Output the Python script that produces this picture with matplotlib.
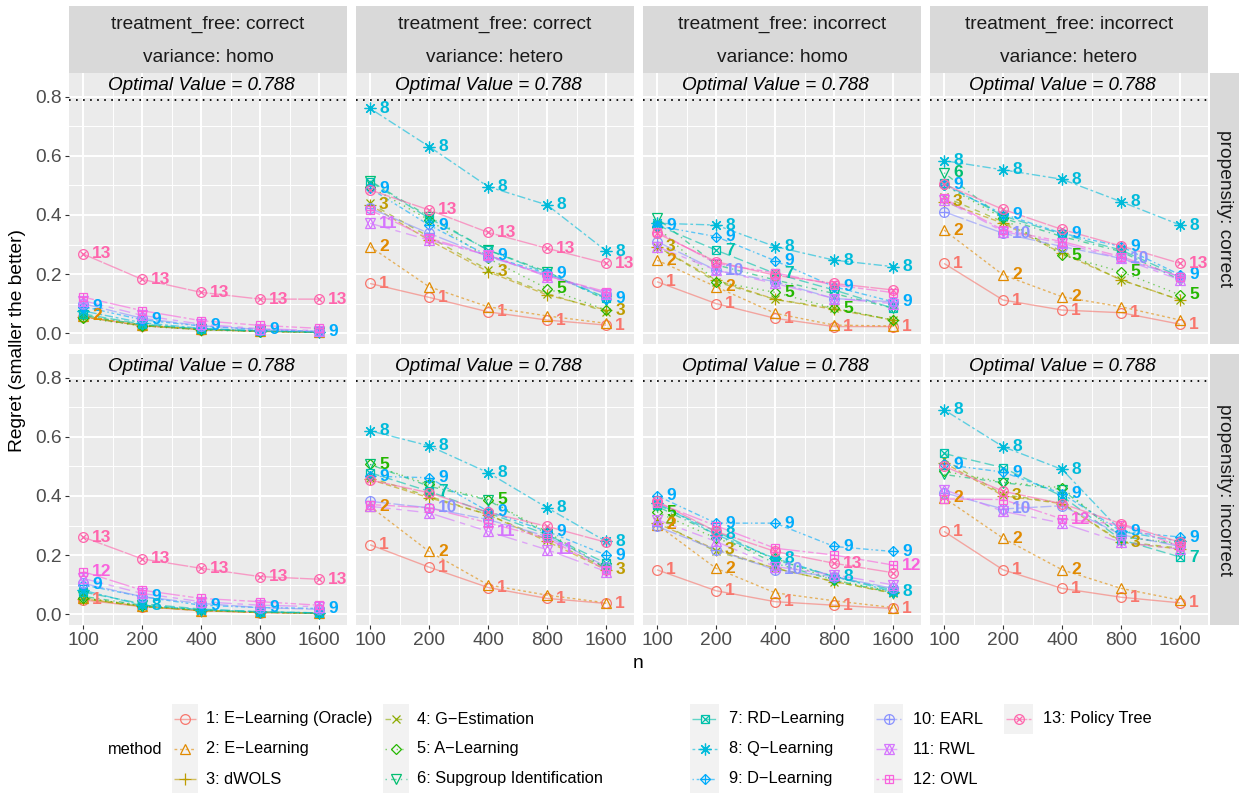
import numpy as np
import matplotlib.pyplot as plt
from matplotlib.patches import Rectangle

plt.rcParams['font.family'] = ['Liberation Sans', 'DejaVu Sans']

# ---------------- data ----------------
n_ticks = ["100", "200", "400", "800", "1600"]
methods = ["1: E\u2212Learning (Oracle)", "2: E\u2212Learning", "3: dWOLS",
           "4: G\u2212Estimation", "5: A\u2212Learning", "6: Supgroup Identification",
           "7: RD\u2212Learning", "8: Q\u2212Learning", "9: D\u2212Learning",
           "10: EARL", "11: RWL", "12: OWL", "13: Policy Tree"]
colors = ["#F8766D", "#E18A00", "#BE9C00", "#8CAB00", "#24B700", "#00BE70", "#00C1AB",
          "#00BBDA", "#00ACFC", "#8B93FF", "#D575FE", "#F962DD", "#FF65AC"]
treatment_free = ["correct", "correct", "incorrect", "incorrect"]
variance = ["homo", "hetero", "homo", "hetero"]
propensity = ["correct", "incorrect"]
optimal_value = 0.788

# regret, one row per method (1..13), columns n = 100..1600
# propensity: correct
reg_c_corr_homo = [
    [.055, .025, .012, .006, .003], [.058, .027, .013, .006, .003], [.055, .025, .012, .006, .003],
    [.055, .025, .012, .006, .003], [.052, .024, .011, .005, .003], [.060, .028, .013, .006, .003],
    [.065, .030, .014, .007, .003], [.075, .035, .016, .008, .004], [.090, .045, .024, .012, .005],
    [.100, .050, .025, .012, .006], [.110, .060, .030, .015, .008], [.122, .076, .042, .026, .016],
    [.268, .182, .138, .115, .115]]
reg_c_corr_hetero = [
    [.168, .121, .072, .044, .027], [.293, .157, .089, .058, .033], [.434, .315, .208, .129, .078],
    [.440, .326, .214, .134, .072], [.496, .383, .253, .151, .078], [.516, .394, .281, .208, .112],
    [.513, .389, .281, .204, .120], [.761, .632, .496, .434, .278], [.490, .366, .262, .202, .117],
    [.423, .338, .259, .197, .134], [.372, .315, .264, .191, .134], [.417, .321, .264, .193, .140],
    [.485, .417, .341, .287, .236]]
reg_c_inc_homo = [
    [.174, .100, .050, .022, .022], [.247, .157, .067, .027, .024], [.293, .180, .114, .080, .044],
    [.293, .174, .114, .084, .044], [.360, .174, .138, .084, .044], [.389, .231, .180, .134, .084],
    [.366, .281, .202, .146, .084], [.372, .366, .293, .247, .225], [.363, .327, .245, .157, .106],
    [.310, .213, .174, .117, .106], [.293, .213, .168, .117, .100], [.344, .236, .204, .163, .137],
    [.338, .242, .196, .168, .146]]
reg_c_inc_hetero = [
    [.236, .112, .078, .069, .030], [.349, .197, .123, .089, .044], [.445, .372, .270, .180, .112],
    [.462, .377, .276, .180, .112], [.502, .389, .264, .208, .129], [.543, .389, .327, .276, .180],
    [.507, .397, .335, .281, .191], [.584, .553, .521, .445, .366], [.502, .403, .338, .293, .197],
    [.411, .338, .293, .253, .191], [.451, .344, .304, .253, .180], [.456, .349, .310, .259, .191],
    [.504, .419, .351, .295, .236]]
# propensity: incorrect
reg_i_corr_homo = [
    [.048, .025, .011, .005, .002], [.055, .027, .012, .006, .003], [.052, .026, .012, .006, .003],
    [.052, .026, .012, .006, .003], [.055, .028, .013, .006, .003], [.060, .030, .014, .007, .003],
    [.075, .035, .017, .008, .004], [.081, .030, .015, .008, .004], [.099, .059, .030, .022, .019],
    [.104, .059, .036, .022, .016], [.121, .070, .042, .030, .025], [.144, .081, .053, .042, .030],
    [.261, .187, .155, .127, .118]]
reg_i_corr_hetero = [
    [.235, .159, .090, .053, .036], [.365, .212, .099, .064, .038], [.456, .394, .337, .246, .150],
    [.462, .399, .337, .252, .155], [.507, .439, .388, .278, .155], [.507, .433, .386, .271, .155],
    [.479, .416, .343, .269, .172], [.621, .570, .479, .360, .246], [.467, .462, .348, .280, .200],
    [.382, .360, .320, .263, .161], [.365, .343, .280, .218, .144], [.371, .360, .309, .257, .150],
    [.454, .411, .345, .297, .243]]
reg_i_inc_homo = [
    [.150, .079, .042, .030, .019], [.303, .155, .072, .045, .022], [.308, .218, .155, .110, .072],
    [.314, .212, .155, .110, .070], [.345, .257, .189, .115, .076], [.365, .269, .172, .115, .072],
    [.371, .280, .184, .127, .082], [.377, .269, .189, .127, .076], [.401, .308, .308, .229, .212],
    [.297, .218, .150, .127, .087], [.320, .246, .161, .133, .099], [.377, .299, .223, .200, .166],
    [.382, .280, .212, .172, .140]]
reg_i_inc_hetero = [
    [.280, .150, .087, .057, .038], [.394, .257, .150, .087, .047], [.513, .401, .374, .243, .220],
    [.524, .405, .376, .246, .223], [.484, .447, .428, .261, .240], [.473, .445, .422, .263, .235],
    [.544, .496, .399, .252, .193], [.692, .567, .490, .280, .246], [.507, .481, .408, .280, .261],
    [.411, .356, .367, .269, .229], [.422, .348, .308, .243, .220], [.390, .388, .322, .303, .229],
    [.501, .416, .374, .306, .243]]

panels = [[reg_c_corr_homo, reg_c_corr_hetero, reg_c_inc_homo, reg_c_inc_hetero],
          [reg_i_corr_homo, reg_i_corr_hetero, reg_i_inc_homo, reg_i_inc_hetero]]

# which method numbers get a text label, and at which n index
ALL = [0, 1, 2, 3, 4]
labels_c = [
    {13: ALL, 9: ALL, 2: [0]},
    {8: ALL, 13: [1, 2, 3, 4], 9: ALL, 3: [0, 2, 4], 11: [0], 2: [0], 1: ALL, 5: [3]},
    {9: ALL, 8: [1, 2, 3, 4], 7: [1, 2], 3: [0], 2: [0, 1], 1: ALL, 10: [1], 5: [2, 3]},
    {8: ALL, 6: [0], 9: ALL, 3: [0], 2: [0, 1, 2], 1: ALL, 10: [1, 3], 5: [2, 3, 4], 13: [4]},
]
labels_i = [
    {13: ALL, 12: [0], 9: ALL, 1: [0], 8: [1]},
    {8: ALL, 5: [0, 2], 9: ALL, 2: [0, 1], 7: [1], 10: [1], 11: [2, 3], 1: ALL, 3: [4]},
    {9: ALL, 5: [0], 4: [0], 2: [0, 1], 8: [1, 2, 3, 4], 3: [1], 10: [2], 13: [3], 12: [4], 1: ALL},
    {8: [0, 1, 2], 9: ALL, 2: [0, 1, 2], 3: [1, 3], 10: [1], 12: [2], 1: ALL, 7: [4]},
]
panel_labels = [labels_c, labels_i]

# ---------------- styles ----------------
dashes = [None, (2, 2), (4, 2), (4, 4), (1, 3), (1, 3, 4, 3), (7, 3), (2, 2, 6, 2),
          (1, 2, 2, 2, 3, 2, 4, 2), (15, 2, 8, 2), (15, 4, 4, 4, 8, 4, 4, 4),
          (2, 2, 4, 2, 8, 2, 15, 2), (15, 1)]
shapes = [[('o', 7)], [('^', 7.5)], [('+', 8)], [('x', 6)], [('D', 5.4)], [('v', 7.5)],
          [('s', 6.2), ('x', 6.2)], [((8, 2, 0), 8.5)], [('D', 5.4), ('+', 7.6)],
          [('o', 7), ('+', 7)], [('^', 7.5), ('v', 7.5)], [('s', 6.2), ('+', 6.2)],
          [('o', 7), ('x', 5)]]


def draw_line(ax, x, y, k, lw=1.0):
    ln, = ax.plot(x, y, color=colors[k], lw=lw, alpha=0.6, solid_capstyle='butt')
    if dashes[k] is not None:
        ln.set_dashes(dashes[k])


def draw_marker(ax, x, y, k):
    for m, s in shapes[k]:
        ax.plot(x, y, ls='none', marker=m, ms=s, mfc='none', mec=colors[k], mew=0.9)


W, H = 1239, 793
fig = plt.figure(figsize=(W / 100, H / 100), dpi=100)

cols_px = [(69, 347), (356, 634), (643, 921), (930, 1208)]
rows_px = [(73, 344), (354, 625)]
xs = np.arange(5)

for r in range(2):
    for c in range(4):
        x0, x1 = cols_px[c]
        y0, y1 = rows_px[r]
        ax = fig.add_axes([x0 / W, 1 - y1 / H, (x1 - x0) / W, (y1 - y0) / H])
        ax.set_facecolor('#EBEBEB')
        for s in ax.spines.values():
            s.set_visible(False)
        ax.set_xlim(-0.237, 4.47)
        ax.set_ylim(-0.037, 0.881)
        ax.set_xticks(xs)
        ax.set_xticks([0.5, 1.5, 2.5, 3.5], minor=True)
        ax.set_yticks([0, 0.2, 0.4, 0.6, 0.8])
        ax.set_yticks([0.1, 0.3, 0.5, 0.7], minor=True)
        ax.grid(which='major', color='white', lw=1.4)
        ax.grid(which='minor', color='white', lw=0.7)
        ax.set_axisbelow(True)
        ax.tick_params(which='minor', length=0)
        ax.tick_params(which='major', length=3, width=0.8, color='#333333',
                       labelsize=13.8, labelcolor='#4D4D4D', pad=2)
        if r == 1:
            ax.set_xticklabels(n_ticks)
        else:
            ax.tick_params(axis='x', length=0, labelbottom=False)
        if c == 0:
            ax.set_yticklabels(["0.0", "0.2", "0.4", "0.6", "0.8"])
        else:
            ax.tick_params(axis='y', length=0, labelleft=False)

        ax.axhline(optimal_value, color='black', lw=1.3, dashes=(0.9, 3.0))
        ax.text(2, 0.838, "Optimal Value = 0.788", ha='center', va='center',
                style='italic', fontsize=13.6, color='black')

        data = panels[r][c]
        for k in range(13):
            draw_line(ax, xs, data[k], k)
        for k in range(13):
            draw_marker(ax, xs, data[k], k)
        for num, idxs in panel_labels[r][c].items():
            k = num - 1
            for i in idxs:
                ax.annotate(str(num), (xs[i], data[k][i]), xytext=(6.5, 0),
                            textcoords='offset points', ha='left', va='center',
                            color=colors[k], fontsize=12.5, fontweight='bold')

# ---------------- strips, titles, legend (pixel overlay) ----------------
ov = fig.add_axes([0, 0, 1, 1])
ov.set_xlim(0, W)
ov.set_ylim(H, 0)
ov.axis('off')
ov.patch.set_visible(False)

for c in range(4):
    x0, x1 = cols_px[c]
    ov.add_patch(Rectangle((x0, 6), x1 - x0, 67, color='#D9D9D9', lw=0))
    ov.text((x0 + x1) / 2, 24, "treatment_free: " + treatment_free[c], ha='center',
            va='center', fontsize=13.8, color='#1A1A1A')
    ov.text((x0 + x1) / 2, 57, "variance: " + variance[c], ha='center',
            va='center', fontsize=13.8, color='#1A1A1A')
for r in range(2):
    y0, y1 = rows_px[r]
    ov.add_patch(Rectangle((1210, y0), 29, y1 - y0, color='#D9D9D9', lw=0))
    ov.text(1224, (y0 + y1) / 2, "propensity: " + propensity[r], ha='center',
            va='center', rotation=-90, fontsize=13.8, color='#1A1A1A')

ov.text(18, 340, "Regret (smaller the better)", rotation=90, ha='center',
        va='center', fontsize=13.8)
ov.text(638, 664, "n", ha='center', va='center', fontsize=13.8)

# legend
ov.text(108, 750, "method", ha='left', va='center', fontsize=11.8)
key_x = [172, 383, 690, 874, 1004]
key_w = [26, 26, 29, 29, 29]
text_x = [206, 417, 729, 913, 1043]
row_y = [719, 749, 779]
for k in range(13):
    col, row = divmod(k, 3)
    kx, ky = key_x[col], row_y[row]
    ov.add_patch(Rectangle((kx, ky - 15), key_w[col], 30, color='#F2F2F2', lw=0))
    draw_line(ov, [kx + 2, kx + key_w[col] - 2], [ky, ky], k)
    draw_marker(ov, [kx + key_w[col] / 2], [ky], k)
    ov.text(text_x[col], ky, methods[k], ha='left', va='center', fontsize=11.8)

fig.savefig("out.png", dpi=100, facecolor='white')
